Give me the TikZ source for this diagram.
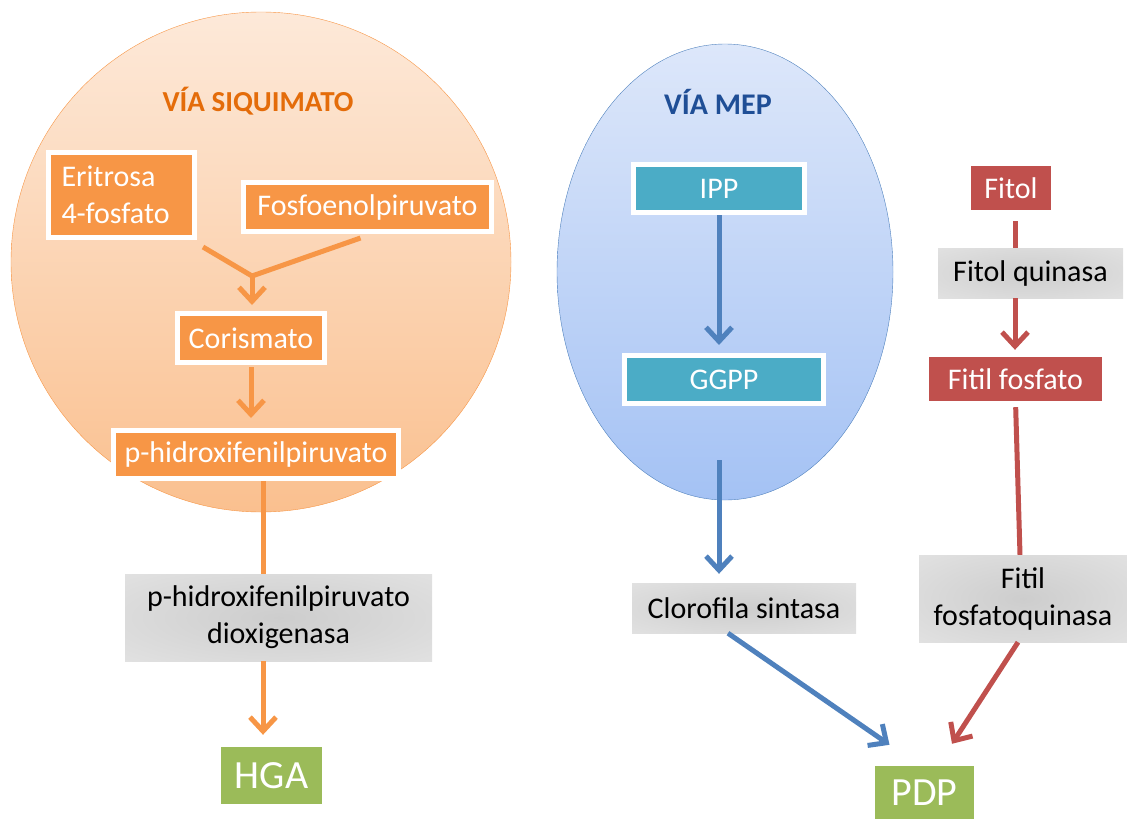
\documentclass[tikz,border=0pt]{standalone}
\usepackage{fontspec}
\setmainfont{Carlito}
\usetikzlibrary{arrows.meta}
\definecolor{siqorange}{HTML}{F79646}
\definecolor{siqtitle}{HTML}{E46C0A}
\definecolor{siqtop}{HTML}{FDE9D9}
\definecolor{siqbottom}{HTML}{FAC08F}
\definecolor{mepblue}{HTML}{4F81BD}
\definecolor{meptitle}{HTML}{1F4E96}
\definecolor{meptop}{HTML}{DDE7FA}
\definecolor{mepbottom}{HTML}{A4C2F4}
\definecolor{mepteal}{HTML}{4BACC6}
\definecolor{fitred}{HTML}{C0504D}
\definecolor{endgreen}{HTML}{9BBB59}
\definecolor{enzmid}{HTML}{CDCDCD}
\definecolor{enzedge}{HTML}{ECECEC}
\pgfdeclareradialshading{enzshade}{\pgfpoint{0bp}{0bp}}{color(0bp)=(enzmid);color(55bp)=(enzedge);color(100bp)=(enzedge)}
\begin{document}
\begin{tikzpicture}[x=1pt,y=-1pt,font=\fontsize{30}{37}\selectfont,
siqbox/.style={draw=white,line width=5pt,fill=siqorange,text=white,inner sep=0pt,minimum height=48pt},
mepbox/.style={draw=white,line width=5pt,fill=mepteal,text=white,inner sep=0pt,minimum height=48pt},
fitbox/.style={fill=fitred,text=white,inner sep=0pt,minimum height=44pt},
enzbox/.style={shading=enzshade,text=black,inner sep=0pt,align=center},
endbox/.style={fill=endgreen,text=white,inner sep=0pt,font=\fontsize{40}{48}\selectfont},
tip/.style={-{Straight Barb[length=14pt,width=26pt]}}]
\useasboundingbox (0,0) rectangle (1127,819);

\draw[draw=siqorange,top color=siqtop,bottom color=siqbottom] (261,262) ellipse [x radius=250,y radius=250];
\draw[draw=mepblue,top color=meptop,bottom color=mepbottom] (725,272) ellipse [x radius=168,y radius=228];

\node (t0) at (258,101) [text=siqtitle,font=\fontsize{29}{34}\bfseries] {VÍA SIQUIMATO};
\node (t1) at (718,102) [text=meptitle,font=\fontsize{30}{34}\bfseries] {VÍA MEP};

\node (0) at (121.5,195) [siqbox,text width=120pt,inner xsep=13pt,minimum height=85pt,align=left] {Eritrosa\\4-fosfato};
\node (1) at (367.5,207) [siqbox,minimum width=248pt,minimum height=49pt] {Fosfoenolpiruvato};
\node (2) at (251,338) [siqbox,minimum width=147pt,minimum height=49pt] {Corismato};
\node (3) at (256,454.5) [siqbox,minimum width=285pt] {p-hidroxifenilpiruvato};
\node (4) at (278.5,617.5) [enzbox,shade,minimum width=307pt,minimum height=87pt] {p-hidroxifenilpiruvato\\dioxigenasa};
\node (5) at (271.5,775.5) [endbox,minimum width=101pt,minimum height=57pt] {HGA};
\node (6) at (719,188.5) [mepbox,minimum width=171pt] {IPP};
\node (7) at (724,379.5) [mepbox,minimum width=199pt] {GGPP};
\node (8) at (744,608) [enzbox,shade,minimum width=224pt,minimum height=50pt] {Clorofila sintasa};
\node (9) at (924.5,792.5) [endbox,minimum width=99pt,minimum height=53pt] {PDP};
\node (10) at (1011,188) [fitbox,minimum width=80pt] {Fitol};
\node (11) at (1030.5,273) [enzbox,shade,minimum width=185pt,minimum height=50pt] {Fitol quinasa};
\node (12) at (1015.5,379) [fitbox,minimum width=173pt] {Fitil fosfato};
\node (13) at (1023,598.5) [enzbox,shade,minimum width=208pt,minimum height=87pt] {Fitil\\fosfatoquinasa};
\coordinate (j) at (252,276);

\draw[siqorange,line width=5pt]
([shift={(6,7)}]0.south east) -- (j)
([shift={(-7,4)}]1.south) -- (j);
\draw[siqorange,line width=5pt,tip,shorten >=6pt] (j) -- (j |- 2.north);
\draw[siqorange,line width=5pt,tip,shorten <=2pt,shorten >=10pt] (2.south) -- (2.south |- 3.north);
\draw[siqorange,line width=5pt] ([xshift=7pt]3.south) -- ([xshift=7pt]3.south |- 4.north);
\draw[siqorange,line width=5pt,tip,shorten >=12pt] ([xshift=7pt]3.south |- 4.south) -- ([xshift=7pt]3.south |- 5.north);

\draw[mepblue,line width=5pt,tip,shorten >=8pt] (6.south) -- (6.south |- 7.north);
\draw[mepblue,line width=5pt,tip,shorten <=54pt,shorten >=9pt] (6.south |- 7.south) -- (6.south |- 8.north);
\draw[mepblue,line width=5pt,tip] ([xshift=-16pt]8.south) -- ([shift={(-35,-21)}]9.north);

\draw[fitred,line width=5pt,shorten <=11pt] ([xshift=4pt]10.south) -- ([xshift=4pt]10.south |- 11.north);
\draw[fitred,line width=5pt,tip,shorten >=7pt] ([xshift=4pt]10.south |- 11.south) -- ([xshift=4pt]10.south |- 12.north);
\draw[fitred,line width=5pt,shorten <=6pt] (12.south) -- ([xshift=-3pt]13.north);
\draw[fitred,line width=5pt,tip] ([xshift=-5pt]13.south) -- ([shift={(27.5,-22)}]9.north);
\end{tikzpicture}
\end{document}
